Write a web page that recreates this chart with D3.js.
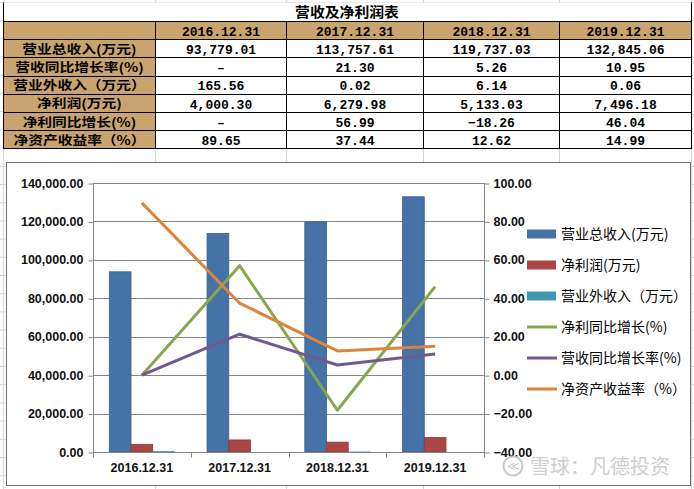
<!DOCTYPE html>
<html><head><meta charset="utf-8">
<script src="https://cdn.jsdelivr.net/npm/d3@7"></script>
<style>
html,body{margin:0;padding:0;background:#fff;}
svg{display:block;}
</style></head>
<body>
<svg id="c" width="694" height="489"></svg>
<script>
// ---------- data ----------
const tableTitle = "营收及净利润表";
const categories = ["2016.12.31", "2017.12.31", "2018.12.31", "2019.12.31"];
const rowLabels = ["营业总收入(万元)", "营收同比增长率(%)", "营业外收入（万元）", "净利润(万元)", "净利同比增长(%)", "净资产收益率（%）"];
const revenue = [93779.01, 113757.61, 119737.03, 132845.06];
const revenueGrowth = [null, 21.30, 5.26, 10.95];
const nonOpIncome = [165.56, 0.02, 6.14, 0.06];
const netProfit = [4000.30, 6279.98, 5133.03, 7496.18];
const profitGrowth = [null, 56.99, -18.26, 46.04];
const roe = [89.65, 37.44, 12.62, 14.99];
const leftTicks = [0, 20000, 40000, 60000, 80000, 100000, 120000, 140000];
const rightTicks = [-40, -20, 0, 20, 40, 60, 80, 100];
const watermark = "雪球：凡德投资";

const barSeries = [
  {name: "营业总收入(万元)", values: revenue, color: "#4572A7", edge: "#3A5F8F"},
  {name: "净利润(万元)", values: netProfit, color: "#AA4643", edge: "#8E3A37"},
  {name: "营业外收入（万元）", values: nonOpIncome, color: "#4198AF", edge: "#2F8AA3"}
];
const lineSeries = [
  {name: "净利同比增长(%)", values: profitGrowth, color: "#89A54E"},
  {name: "营收同比增长率(%)", values: revenueGrowth, color: "#71588F"},
  {name: "净资产收益率（%）", values: roe, color: "#DB843D"}
];

const svg = d3.select("#c");
const cjk = "'Noto Sans CJK SC', 'Noto Sans', sans-serif";
const mono = "'Liberation Mono', 'DejaVu Sans Mono', monospace";
const sans = "'Liberation Sans', Arial, sans-serif";

// ---------- spreadsheet background grid ----------
const colEdges = [3, 155, 286, 423, 559, 691];
const rowH = 18.2;
const gbg = svg.append("g");
d3.range(0, 28).forEach(k => {
  const y = 2.5 + k * rowH;
  gbg.append("line").attr("x1", 0).attr("x2", 694).attr("y1", y).attr("y2", y)
    .attr("stroke", "#d6d6d6").attr("stroke-width", 1);
});
colEdges.forEach(x => {
  gbg.append("line").attr("x1", x + 0.5).attr("x2", x + 0.5).attr("y1", 0).attr("y2", 489)
    .attr("stroke", "#d6d6d6").attr("stroke-width", 1);
});

// ---------- table ----------
const fmt = d3.format(",.2f");
const tableRows = [revenue, revenueGrowth, nonOpIncome, netProfit, profitGrowth, roe];
const tbl = svg.append("g");
const tTop = 21;
const cellY = i => tTop + i * rowH;
// title row
tbl.append("rect").attr("x", colEdges[0] + 0.5).attr("y", 2.5).attr("width", colEdges[5] - colEdges[0]).attr("height", tTop - 2.5)
  .attr("fill", "#fff");
tbl.append("line").attr("x1", colEdges[0] + 0.5).attr("x2", colEdges[0] + 0.5).attr("y1", 2.5).attr("y2", tTop).attr("stroke", "#000");
tbl.append("line").attr("x1", colEdges[5] + 0.5).attr("x2", colEdges[5] + 0.5).attr("y1", 2.5).attr("y2", tTop).attr("stroke", "#000");
tbl.append("text").attr("transform", `translate(${(colEdges[0] + colEdges[5]) / 2},12) scale(1.1,1)`)
  .attr("dy", "0.36em")
  .attr("text-anchor", "middle").attr("font-family", cjk).attr("font-weight", "bold").attr("font-size", 13.5)
  .text(tableTitle);

const tan = "#C9A46F";
for (let r = 0; r < 7; r++) {
  for (let c = 0; c < 5; c++) {
    const x0 = colEdges[c], x1 = colEdges[c + 1];
    const y0 = cellY(r), y1 = cellY(r + 1);
    const fill = (r === 0 || c === 0) ? tan : "#fff";
    tbl.append("rect").attr("x", x0 + 0.5).attr("y", Math.round(y0) + 0.5)
      .attr("width", x1 - x0).attr("height", Math.round(y1) - Math.round(y0))
      .attr("fill", fill).attr("stroke", "#000").attr("stroke-width", 1);
    if (r === 0 && c === 0) continue;
    const cx = (x0 + x1) / 2 + 0.5, cy = (y0 + y1) / 2 + 1;
    if (c === 0) {
      tbl.append("text").attr("transform", `translate(${cx},${cy}) scale(1.18,1)`).attr("dy", "0.36em")
        .attr("text-anchor", "middle").attr("font-family", cjk).attr("font-weight", "bold")
        .attr("font-size", 12.5).attr("fill", "#000").text(rowLabels[r - 1]);
      continue;
    }
    let txt;
    if (r === 0) txt = categories[c - 1];
    else {
      const v = tableRows[r - 1][c - 1];
      txt = v == null ? "–" : fmt(v);
    }
    tbl.append("text").attr("x", cx).attr("y", cy).attr("dy", "0.36em")
      .attr("text-anchor", "middle").attr("font-family", mono).attr("font-weight", "bold")
      .attr("font-size", 13).attr("fill", "#000").text(txt);
  }
}

// ---------- chart frame ----------
svg.append("rect").attr("x", 6.5).attr("y", 162.5).attr("width", 684).attr("height", 323)
  .attr("fill", "#fff").attr("stroke", "#6e6e6e").attr("stroke-width", 1);

const plotL = 93, plotR = 484, plotT = 183, plotB = 452;
const x = d3.scaleBand().domain(categories).range([plotL, plotR]).padding(0);
const bw = x.bandwidth();
const gapFrac = 0.75 / 4.5;
const x1 = d3.scaleBand().domain(barSeries.map(s => s.name)).range([bw * gapFrac, bw * (1 - gapFrac)]).padding(0);
const yL = d3.scaleLinear().domain([0, 140000]).range([plotB, plotT]);
const yR = d3.scaleLinear().domain([-40, 100]).range([plotB, plotT]);

// gridlines
const gg = svg.append("g");
gg.selectAll("line").data(leftTicks).join("line")
  .attr("x1", plotL).attr("x2", plotR)
  .attr("y1", d => Math.round(yL(d)) + 0.5).attr("y2", d => Math.round(yL(d)) + 0.5)
  .attr("stroke", "#868686").attr("stroke-width", 1);

// bars
const gb = svg.append("g");
barSeries.forEach(s => {
  gb.selectAll(null).data(s.values.map((v, i) => ({v, c: categories[i]}))).join("rect")
    .attr("x", d => x(d.c) + x1(s.name))
    .attr("y", d => yL(d.v))
    .attr("width", x1.bandwidth())
    .attr("height", d => yL(0) - yL(d.v))
    .attr("fill", s.color)
    .attr("stroke", d => (yL(0) - yL(d.v)) > 0.005 ? s.edge : "none")
    .attr("stroke-width", 0.8);
});

// axes
const axL = svg.append("g").attr("transform", `translate(${plotL + 0.5},0)`)
  .call(d3.axisLeft(yL).tickValues(leftTicks).tickFormat(fmt).tickSize(5).tickPadding(5));
const axR = svg.append("g").attr("transform", `translate(${plotR + 0.5},0)`)
  .call(d3.axisRight(yR).tickValues(rightTicks).tickFormat(fmt).tickSize(5).tickPadding(4));
[axL, axR].forEach(a => {
  a.select(".domain").attr("stroke", "#868686").attr("d", null);
  a.selectAll(".tick line").attr("stroke", "#868686").attr("transform", "translate(0,0.5)");
  a.selectAll("text").attr("font-family", sans).attr("font-weight", "bold").attr("font-size", 12.5).attr("fill", "#111");
});
axL.append("line").attr("x1", 0).attr("x2", 0).attr("y1", plotT).attr("y2", plotB).attr("stroke", "#868686");
axR.append("line").attr("x1", 0).attr("x2", 0).attr("y1", plotT).attr("y2", plotB + 5).attr("stroke", "#868686");

// x axis
const axB = svg.append("g").attr("transform", `translate(0,${plotB + 0.5})`)
  .call(d3.axisBottom(x).tickSize(0).tickPadding(11));
axB.select(".domain").remove();
axB.append("line").attr("x1", plotL).attr("x2", plotR).attr("stroke", "#868686");
axB.selectAll(null).data(categories.concat(["end"])).join("line")
  .attr("x1", (d, i) => Math.round(i < categories.length ? x(d) : plotR) + 0.5)
  .attr("x2", (d, i) => Math.round(i < categories.length ? x(d) : plotR) + 0.5)
  .attr("y1", 0).attr("y2", 5).attr("stroke", "#868686");
axB.selectAll("text").attr("font-family", sans).attr("font-weight", "bold").attr("font-size", 12.5).attr("fill", "#111");

// lines (Excel plots "–" as 0)
const gl = svg.append("g");
const lineGen = d3.line().x((d, i) => x(categories[i]) + bw / 2).y(d => yR(d == null ? 0 : d));
lineSeries.forEach(s => {
  gl.append("path").attr("d", lineGen(s.values)).attr("fill", "none")
    .attr("stroke", s.color).attr("stroke-width", 3).attr("stroke-linejoin", "round");
});

// legend
const lg = svg.append("g");
const legendItems = barSeries.map(s => ({name: s.name, color: s.color, type: "bar"}))
  .concat(lineSeries.map(s => ({name: s.name, color: s.color, type: "line"})));
legendItems.forEach((d, i) => {
  const cy = 234 + i * 31;
  if (d.type === "bar") {
    lg.append("rect").attr("x", 527).attr("y", cy - 4.5).attr("width", 29).attr("height", 9).attr("fill", d.color);
  } else {
    lg.append("line").attr("x1", 527).attr("x2", 557).attr("y1", cy).attr("y2", cy)
      .attr("stroke", d.color).attr("stroke-width", 3);
  }
  lg.append("text").attr("x", 561).attr("y", cy).attr("dy", "0.36em")
    .attr("font-family", cjk).attr("font-size", 14).attr("fill", "#000").text(d.name);
});

// watermark
const wm = svg.append("g").attr("opacity", 0.9);
wm.append("circle").attr("cx", 513).attr("cy", 466).attr("r", 9.5).attr("fill", "none").attr("stroke", "#c4c4c4").attr("stroke-width", 2);
wm.append("text").attr("x", 513).attr("y", 466).attr("dy", "0.36em").attr("text-anchor", "middle")
  .attr("font-family", sans).attr("font-size", 12).attr("fill", "#c4c4c4").text("≪");
wm.append("text").attr("x", 530).attr("y", 467).attr("dy", "0.36em")
  .attr("font-family", cjk).attr("font-size", 20).attr("fill", "#cacaca").text(watermark);
</script>
</body></html>
